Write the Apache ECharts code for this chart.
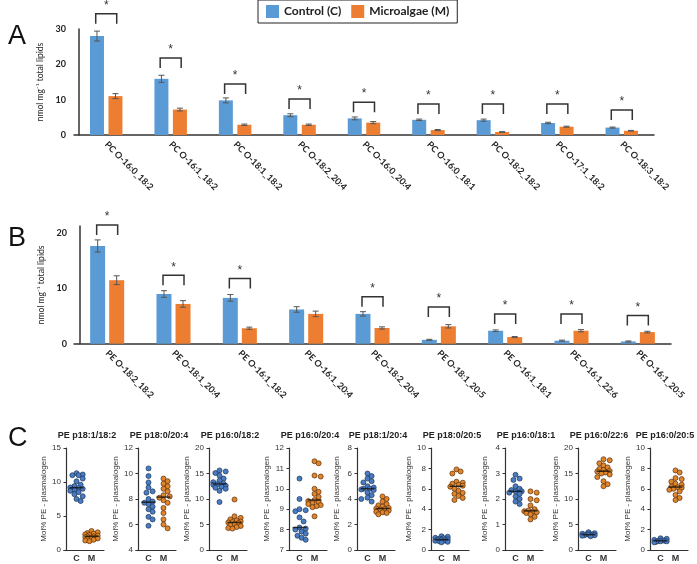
<!DOCTYPE html>
<html>
<head>
<meta charset="utf-8">
<script src="https://cdn.jsdelivr.net/npm/echarts@6/dist/echarts.min.js"></script>
<style>
  html, body { margin: 0; padding: 0; background: #fff; }
  #chart { width: 697px; height: 564px; }
</style>
</head>
<body>
<div id="chart"></div>
<script>
// ---- panel A : PC plasmalogens (nmol/mg total lipids)
const catsA = ['PC O-16:0_18:2', 'PC O-16:1_18:2', 'PC O-18:1_18:2', 'PC O-18:2_20:4', 'PC O-16:0_20:4',
  'PC O-16:0_18:1', 'PC O-18:2_18:2', 'PC O-17:1_18:2', 'PC O-18:3_18:2'];
const ctrlA = [28.0, 15.9, 9.8, 5.6, 4.7, 4.3, 4.2, 3.4, 2.1];
const algaA = [11.0, 7.2, 2.9, 2.9, 3.5, 1.4, 0.85, 2.35, 1.2];
const ctrlErrA = [1.4, 1.0, 0.7, 0.4, 0.4, 0.2, 0.3, 0.2, 0.15];
const algaErrA = [0.7, 0.4, 0.2, 0.2, 0.3, 0.15, 0.1, 0.15, 0.1];
const sigA = [34.3, 21.8, 14.4, 10.2, 9.3, 8.8, 8.8, 8.8, 7.1];

// ---- panel B : PE plasmalogens
const catsB = ['PE O-18:2_18:2', 'PE O-18:1_20:4', 'PE O-16:1_18:2', 'PE O-16:1_20:4', 'PE O-18:2_20:4',
  'PE O-18:1_20:5', 'PE O-16:1_18:1', 'PE O-16:1_22:6', 'PE O-16:1_20:5'];
const ctrlB = [17.7, 9.0, 8.3, 6.2, 5.4, 0.7, 2.35, 0.55, 0.4];
const algaB = [11.5, 7.2, 2.8, 5.4, 2.85, 3.15, 1.2, 2.35, 2.1];
const ctrlErrB = [1.1, 0.6, 0.6, 0.5, 0.4, 0.1, 0.15, 0.1, 0.1];
const algaErrB = [0.8, 0.6, 0.2, 0.5, 0.2, 0.3, 0.1, 0.2, 0.15];
const sigB = [21.5, 12.4, 11.8, null, 8.5, 6.65, 5.4, 5.4, 5.1];

// ---- panel C : Mol% PE plasmalogen, individual animals
const titlesC = ['PE p18:1/18:2', 'PE p18:0/20:4', 'PE p16:0/18:2', 'PE p16:0/20:4', 'PE p18:1/20:4',
  'PE p18:0/20:5', 'PE p16:0/18:1', 'PE p16:0/22:6', 'PE p16:0/20:5'];
const yMinC = [0, 4, 0, 7, 0, 0, 0, 0, 0];
const yMaxC = [15, 12, 20, 12, 8, 10, 4, 20, 10];
const yStepC = [5, 2, 5, 1, 2, 2, 1, 5, 2];
const groupLabels = ['C', 'M'];
const ctrlC = [
  [11.3, 11.1, 11.0, 11.0, 10.5, 10.1, 9.6, 9.4, 9.2, 9.1, 9.0, 8.9, 8.7, 8.5, 8.2, 7.9, 7.5, 7.2],
  [10.4, 9.8, 9.3, 8.9, 8.6, 8.5, 8.0, 7.8, 7.7, 7.6, 7.4, 7.2, 7.0, 6.6, 6.4, 5.9],
  [15.6, 15.4, 15.1, 14.6, 14.0, 13.6, 13.3, 13.0, 12.9, 12.8, 12.6, 12.4, 12.2, 12.0, 11.6, 9.4],
  [10.5, 9.5, 9.0, 8.95, 8.9, 8.6, 8.4, 8.1, 8.05, 8.0, 7.9, 7.8, 7.7, 7.6, 7.5],
  [6.0, 5.8, 5.6, 5.4, 5.3, 5.0, 4.9, 4.8, 4.8, 4.75, 4.7, 4.5, 4.3, 4.1, 4.0, 3.8],
  [1.35, 1.3, 1.2, 1.15, 1.1, 1.05, 1.0, 1.0, 0.95, 0.9, 0.9, 0.85, 0.8, 0.75],
  [2.95, 2.8, 2.75, 2.5, 2.4, 2.35, 2.3, 2.3, 2.25, 2.2, 2.1, 2.0, 1.9, 1.8],
  [3.5, 3.3, 3.2, 3.1, 3.1, 3.0, 3.0, 2.9, 2.9, 2.8, 2.7],
  [1.15, 1.1, 1.0, 0.95, 0.9, 0.9, 0.85, 0.85, 0.8, 0.75]
];
const algaC = [
  [2.8, 2.6, 2.5, 2.4, 2.3, 2.2, 2.1, 2.0, 2.0, 1.9, 1.8, 1.8, 1.7, 1.6, 1.5, 1.4, 1.3],
  [9.6, 9.4, 9.2, 9.0, 8.8, 8.6, 8.3, 8.2, 8.1, 7.9, 7.7, 7.3, 6.9, 6.4, 6.0, 5.7],
  [9.9, 6.6, 6.3, 6.0, 5.8, 5.6, 5.5, 5.4, 5.3, 5.1, 4.9, 4.7, 4.5, 4.3, 4.2],
  [11.35, 11.25, 10.65, 10.6, 10.0, 9.85, 9.75, 9.6, 9.45, 9.4, 9.35, 9.3, 9.25, 9.2, 9.15, 9.1, 8.65],
  [4.2, 4.0, 3.8, 3.6, 3.5, 3.4, 3.3, 3.25, 3.2, 3.15, 3.1, 3.0, 2.95, 2.9, 2.8],
  [7.9, 7.7, 7.5, 6.7, 6.6, 6.5, 6.4, 6.3, 6.2, 6.0, 5.8, 5.6, 5.5, 5.3, 5.1, 4.9],
  [2.3, 2.25, 2.0, 1.95, 1.75, 1.6, 1.55, 1.52, 1.5, 1.48, 1.45, 1.4, 1.3, 1.2],
  [17.8, 17.6, 17.0, 16.6, 16.2, 15.9, 15.7, 15.5, 15.4, 15.2, 15.0, 14.8, 14.3, 13.5, 12.9, 12.5],
  [7.8, 7.6, 7.05, 6.95, 6.7, 6.5, 6.4, 6.2, 6.15, 6.1, 6.0, 5.9, 5.75, 5.4, 5.1, 4.9]
];

const BLUE = '#5b9bd5', ORANGE = '#ed7d31';
const lefts = [64, 136, 207, 287, 355, 429, 503, 576, 648];
const cTop = 448, cH = 102, cW = 40;

function median(arr) {
  const s = arr.slice().sort((a, b) => a - b);
  const m = Math.floor(s.length / 2);
  return s.length % 2 ? s[m] : (s[m - 1] + s[m]) / 2;
}

// simple beeswarm: horizontal pixel offset for each dot, kept within +-maxOff
function swarm(vals, pxPerUnit, d, maxOff) {
  const placed = [];
  return vals.map(v => {
    const y = v * pxPerUnit;
    let best = 0, bestGap = -1;
    for (let k = 0; ; k++) {
      const off = Math.ceil(k / 2) * (k % 2 ? 1 : -1) * d * 0.45;
      if (Math.abs(off) > maxOff) break;
      const gap = placed.length ? Math.min(...placed.map(p => Math.hypot(p[0] - off, p[1] - y))) : Infinity;
      if (gap >= d) { best = off; break; }
      if (gap > bestGap) { bestGap = gap; best = off; }
    }
    placed.push([best, y]);
    return best;
  });
}

function errorBars(offset) {
  return function (params, api) {
    const i = api.value(0), v = api.value(1), e = api.value(2);
    const hi = api.coord([i, v + e]), lo = api.coord([i, v - e]);
    const x = hi[0] + offset;
    const style = { stroke: '#555', lineWidth: 1 };
    return {
      type: 'group', children: [
        { type: 'line', shape: { x1: x, y1: hi[1], x2: x, y2: lo[1] }, style },
        { type: 'line', shape: { x1: x - 3, y1: hi[1], x2: x + 3, y2: hi[1] }, style },
        { type: 'line', shape: { x1: x - 3, y1: lo[1], x2: x + 3, y2: lo[1] }, style }
      ]
    };
  };
}

function brackets(offset) {
  return function (params, api) {
    const p = api.coord([api.value(0), api.value(1)]);
    const x1 = p[0] - offset, x2 = p[0] + offset, y = p[1];
    return {
      type: 'group', children: [
        { type: 'polyline', shape: { points: [[x1, y + 10], [x1, y], [x2, y], [x2, y + 10]] },
          style: { stroke: '#333', lineWidth: 1.5, fill: null } },
        { type: 'text', style: { text: '*', x: p[0], y: y - 2, align: 'center', verticalAlign: 'bottom',
          fontSize: 12, fontFamily: 'Liberation Sans', fill: '#333' } }
      ]
    };
  };
}

const barLabel = { rotate: -45, fontSize: 9, fontWeight: 'bold', color: '#222', fontFamily: 'Lato', margin: 8, interval: 0 };
const yLabel = { fontSize: 9, fontWeight: 'bold', color: '#222', fontFamily: 'Lato', margin: 13 };
const axLine = { lineStyle: { color: '#333', width: 1.5 } };
const yName = 'nmol mg⁻¹ total lipids';

const grids = [
  { left: 74, top: 29, width: 580, height: 106, outerBoundsMode: 'none' },
  { left: 74, top: 226.1, width: 597, height: 117.6, outerBoundsMode: 'none' }
];
const xAxes = [
  { type: 'category', gridIndex: 0, data: catsA, axisLine: axLine, axisTick: { show: false }, axisLabel: barLabel },
  { type: 'category', gridIndex: 1, data: catsB, axisLine: axLine, axisTick: { show: false }, axisLabel: barLabel }
];
const yAxes = [
  { type: 'value', gridIndex: 0, min: 0, max: 30, interval: 10, offset: -5, axisLine: { show: true, ...axLine },
    axisTick: { show: false }, splitLine: { show: false }, axisLabel: yLabel,
    name: yName, nameLocation: 'middle', nameGap: 31, nameTextStyle: { fontSize: 8.5, color: '#222', fontFamily: 'Lato' } },
  { type: 'value', gridIndex: 1, min: 0, max: 21.3, interval: 10, offset: -6, axisLine: { show: true, ...axLine },
    axisTick: { show: false }, splitLine: { show: false },
    axisLabel: { ...yLabel, formatter: v => (v % 10 === 0 ? String(v) : '') },
    name: yName, nameLocation: 'middle', nameGap: 32, nameTextStyle: { fontSize: 8.5, color: '#222', fontFamily: 'Lato' } }
];
const titles = [
  { text: 'A', left: 3, top: 18, textStyle: { fontSize: 27, fontWeight: 'normal', color: '#111', fontFamily: 'Liberation Sans' } },
  { text: 'B', left: 3, top: 220, textStyle: { fontSize: 27, fontWeight: 'normal', color: '#111', fontFamily: 'Liberation Sans' } },
  { text: 'C', left: 3, top: 420, textStyle: { fontSize: 27, fontWeight: 'normal', color: '#111', fontFamily: 'Liberation Sans' } }
];

const series = [
  { name: 'Control (C)', type: 'bar', xAxisIndex: 0, yAxisIndex: 0, data: ctrlA, barWidth: 14, barGap: '32%', itemStyle: { color: BLUE } },
  { name: 'Microalgae (M)', type: 'bar', xAxisIndex: 0, yAxisIndex: 0, data: algaA, barWidth: 14, itemStyle: { color: ORANGE } },
  { type: 'custom', xAxisIndex: 0, yAxisIndex: 0, renderItem: errorBars(-9.24), clip: false, z: 5,
    data: catsA.map((c, i) => [c, ctrlA[i], ctrlErrA[i]]) },
  { type: 'custom', xAxisIndex: 0, yAxisIndex: 0, renderItem: errorBars(9.24), clip: false, z: 5,
    data: catsA.map((c, i) => [c, algaA[i], algaErrA[i]]) },
  { type: 'custom', xAxisIndex: 0, yAxisIndex: 0, renderItem: brackets(10.5), clip: false, z: 5,
    data: catsA.map((c, i) => [c, sigA[i]]) },

  { name: 'Control (C)', type: 'bar', xAxisIndex: 1, yAxisIndex: 1, data: ctrlB, barWidth: 15, barGap: '27%', itemStyle: { color: BLUE } },
  { name: 'Microalgae (M)', type: 'bar', xAxisIndex: 1, yAxisIndex: 1, data: algaB, barWidth: 15, itemStyle: { color: ORANGE } },
  { type: 'custom', xAxisIndex: 1, yAxisIndex: 1, renderItem: errorBars(-9.5), clip: false, z: 5,
    data: catsB.map((c, i) => [c, ctrlB[i], ctrlErrB[i]]) },
  { type: 'custom', xAxisIndex: 1, yAxisIndex: 1, renderItem: errorBars(9.5), clip: false, z: 5,
    data: catsB.map((c, i) => [c, algaB[i], algaErrB[i]]) },
  { type: 'custom', xAxisIndex: 1, yAxisIndex: 1, renderItem: brackets(10.5), clip: false, z: 5,
    data: catsB.map((c, i) => [c, sigB[i]]).filter(d => d[1] != null) }
];

// panel C: nine small dot plots
const slots = ['', '', groupLabels[0], '', '', groupLabels[1], '', ''];
const posC = 2, posM = 5;
titlesC.forEach((t, i) => {
  const g = grids.length;
  grids.push({ left: lefts[i], top: cTop, width: cW, height: cH, outerBoundsMode: 'none' });
  // keep the last title inside the canvas
  titles.push({ text: t, left: Math.min(lefts[i] + 18, 660), top: 426, textAlign: 'center',
    textStyle: { fontSize: 9, fontWeight: 'bold', color: '#222', fontFamily: 'Liberation Sans' } });
  const xc = xAxes.length;
  xAxes.push({ type: 'category', gridIndex: g, data: slots, boundaryGap: true,
    axisLine: { lineStyle: { color: '#333', width: 1.2 } },
    axisTick: { alignWithLabel: true, length: 3, interval: idx => idx === posC || idx === posM, lineStyle: { color: '#333' } },
    axisLabel: { interval: 0, fontSize: 9, fontWeight: 'bold', color: '#333', margin: 4, fontFamily: 'Liberation Sans' } });
  xAxes.push({ type: 'value', gridIndex: g, min: -0.5, max: 7.5, show: false });
  const yc = yAxes.length;
  yAxes.push({ type: 'value', gridIndex: g, min: yMinC[i], max: yMaxC[i], interval: yStepC[i],
    axisLine: { show: true, lineStyle: { color: '#333', width: 1.2 } },
    axisTick: { show: true, length: 3, lineStyle: { color: '#333' } },
    splitLine: { show: false },
    axisLabel: { fontSize: 8, color: '#333', margin: 3, fontFamily: 'Liberation Sans' },
    name: 'Mol% PE - plasmalogen', nameLocation: 'middle', nameGap: 14,
    nameTextStyle: { fontSize: 8, color: '#333', fontFamily: 'Liberation Sans' } });

  const pxPerUnit = cH / (yMaxC[i] - yMinC[i]);
  const unitPx = cW / 8;
  const offC = swarm(ctrlC[i], pxPerUnit, 4.6, 7.5);
  const offM = swarm(algaC[i], pxPerUnit, 4.6, 7.5);
  series.push({ type: 'scatter', name: 'C' + i, xAxisIndex: xc + 1, yAxisIndex: yc, symbolSize: 5,
    itemStyle: { color: '#4a7cc4', borderColor: '#1d3557', borderWidth: 0.7, opacity: 1 },
    data: ctrlC[i].map((v, j) => [posC + offC[j] / unitPx, v]) });
  series.push({ type: 'scatter', name: 'M' + i, xAxisIndex: xc + 1, yAxisIndex: yc, symbolSize: 5,
    itemStyle: { color: '#e0862a', borderColor: '#5a2d0c', borderWidth: 0.7, opacity: 1 },
    data: algaC[i].map((v, j) => [posM + offM[j] / unitPx, v]) });
  series.push({ type: 'scatter', name: 'med' + i, xAxisIndex: xc + 1, yAxisIndex: yc, symbol: 'rect',
    symbolSize: [14, 1.5], z: 6, itemStyle: { color: '#111' },
    data: [[posC, median(ctrlC[i])], [posM, median(algaC[i])]] });
});

const option = {
  animation: false,
  backgroundColor: '#fff',
  title: titles,
  legend: {
    data: ['Control (C)', 'Microalgae (M)'],
    left: 258, top: 0, padding: [5, 8], itemWidth: 13, itemHeight: 13, itemGap: 10,
    icon: 'rect', borderColor: '#222', borderWidth: 1,
    textStyle: { fontSize: 12, fontWeight: 'bold', color: '#222', fontFamily: 'Lato' }
  },
  grid: grids,
  xAxis: xAxes,
  yAxis: yAxes,
  series: series
};

const chart = echarts.init(document.getElementById('chart'));
chart.setOption(option);
window.addEventListener('resize', function () {
  chart && chart.resize();
});
</script>
</body>
</html>
